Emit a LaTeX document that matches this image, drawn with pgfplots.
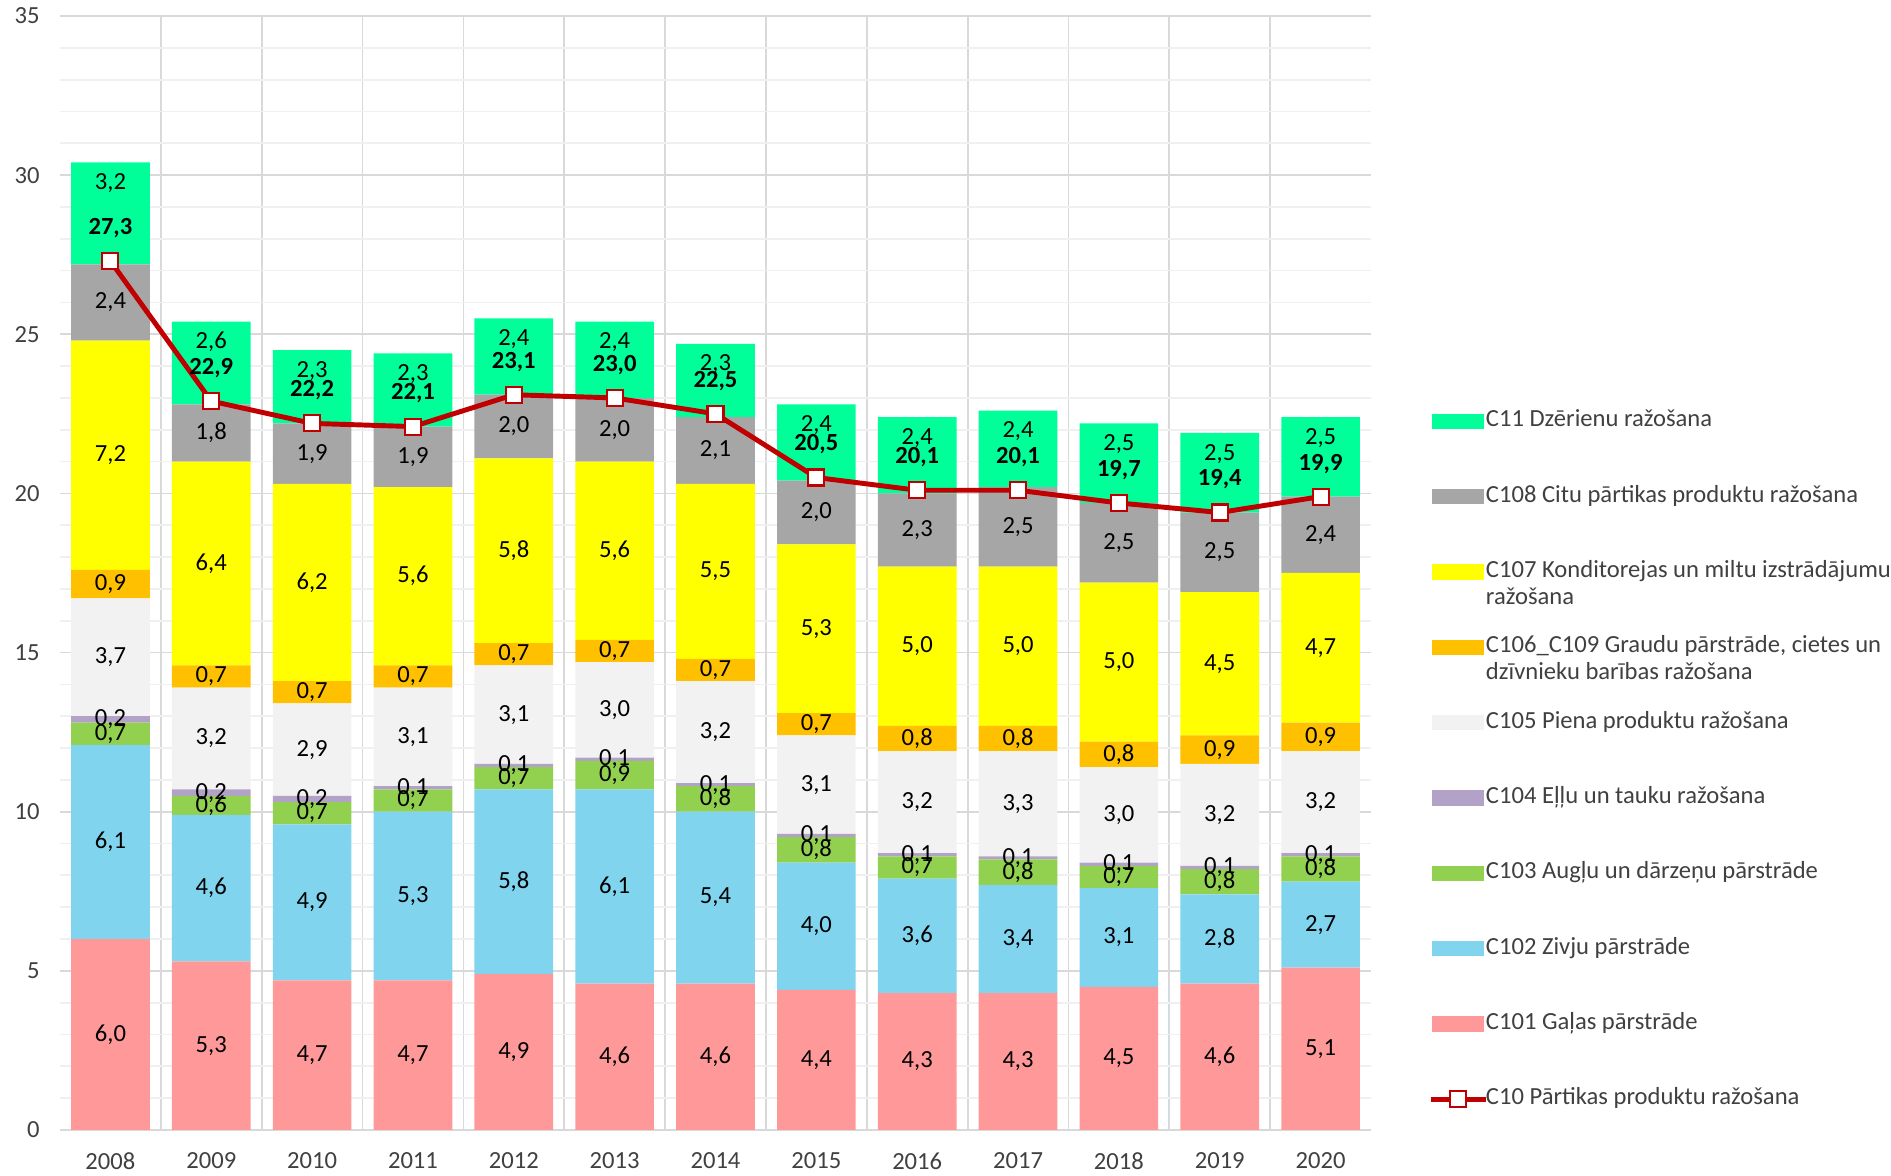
\documentclass[border=0pt]{standalone}
\usepackage{pgfplots}
\pgfplotsset{compat=1.18}
\usepackage{pgfplotstable}
\usepackage{fontspec}
\setmainfont{Carlito}
\definecolor{cMeat}{HTML}{FF9999}
\definecolor{cFish}{HTML}{80D4EE}
\definecolor{cFruit}{HTML}{92D050}
\definecolor{cOil}{HTML}{B3A2C7}
\definecolor{cMilk}{HTML}{F2F2F2}
\definecolor{cGrain}{HTML}{FFC000}
\definecolor{cBake}{HTML}{FFFF00}
\definecolor{cOther}{HTML}{A6A6A6}
\definecolor{cDrink}{HTML}{00FF99}
\definecolor{lineRed}{HTML}{C00000}
\definecolor{gridc}{HTML}{D9D9D9}
\definecolor{gridm}{HTML}{F0F0F0}
\definecolor{txtc}{HTML}{404040}
\newcommand{\LE}{\hspace*{-0.9mm}}

\pgfplotstableread{
yr c101 c102 c103 c104 c105 c106 c107 c108 c11 c10
0  6.0 6.1 0.7 0.2 3.7 0.9 7.2 2.4 3.2 27.3
1  5.3 4.6 0.6 0.2 3.2 0.7 6.4 1.8 2.6 22.9
2  4.7 4.9 0.7 0.2 2.9 0.7 6.2 1.9 2.3 22.2
3  4.7 5.3 0.7 0.1 3.1 0.7 5.6 1.9 2.3 22.1
4  4.9 5.8 0.7 0.1 3.1 0.7 5.8 2.0 2.4 23.1
5  4.6 6.1 0.9 0.1 3.0 0.7 5.6 2.0 2.4 23.0
6  4.6 5.4 0.8 0.1 3.2 0.7 5.5 2.1 2.3 22.5
7  4.4 4.0 0.8 0.1 3.1 0.7 5.3 2.0 2.4 20.5
8  4.3 3.6 0.7 0.1 3.2 0.8 5.0 2.3 2.4 20.1
9  4.3 3.4 0.8 0.1 3.3 0.8 5.0 2.5 2.4 20.1
10 4.5 3.1 0.7 0.1 3.0 0.8 5.0 2.5 2.5 19.7
11 4.6 2.8 0.8 0.1 3.2 0.9 4.5 2.5 2.5 19.4
12 5.1 2.7 0.8 0.1 3.2 0.9 4.7 2.4 2.5 19.9
}\datatable

\pgfplotsset{
  commonaxis/.style={
    at={(0,0)}, anchor=south west,
    width=131.1mm, height=111.4mm, scale only axis,
    xmin=-0.5, xmax=12.5, ymin=0, ymax=35,
  }
}

\begin{document}
\begin{tikzpicture}[font=\fontsize{7}{8}\selectfont]
\path[use as bounding box] (-6.0mm,-4.5mm) rectangle (183.1mm,113.0mm);
\begin{axis}[commonaxis,
  ybar stacked, bar width=0.78,
  xtick={0,...,12},
  xticklabels={2008,2009,2010,2011,2012,2013,2014,2015,2016,2017,2018,2019,2020},
  minor xtick={0.5,1.5,...,11.5},
  ytick={0,5,...,35},
  yticklabels={0,5,10,15,20,25,30,35},
  minor y tick num=4,
  xminorgrids, ymajorgrids, yminorgrids,
  major y grid style={draw=gridc, line width=0.5pt},
  minor y grid style={draw=gridm, line width=0.5pt},
  minor x grid style={draw=gridc, line width=0.5pt},
  separate axis lines,
  axis x line*=bottom, axis y line*=left,
  x axis line style={draw=gridc, line width=0.6pt},
  y axis line style={draw=none},
  major tick length=0pt, minor tick length=0pt,
  tick style={draw=none},
  yticklabel style={text=txtc, xshift=-0.8mm},
  xticklabel style={text=txtc, yshift=-1.0mm},
  nodes near coords={\pgfmathprintnumber[fixed,fixed zerofill,precision=1,use comma,assume math mode=true]{\pgfplotspointmeta}},
  visualization depends on=rawy \as \rawy,
  every node near coord/.append style={anchor=center, text=black},
]
\addplot[fill=cMeat, draw=none] table[x=yr,y=c101]{\datatable};
\addplot[fill=cFish, draw=none] table[x=yr,y=c102]{\datatable};
\addplot[fill=cFruit, draw=none] table[x=yr,y=c103]{\datatable};
\addplot[fill=cOil, draw=none] table[x=yr,y=c104]{\datatable};
\addplot[fill=cMilk, draw=none] table[x=yr,y=c105]{\datatable};
\addplot[fill=cGrain, draw=none] table[x=yr,y=c106]{\datatable};
\addplot[fill=cBake, draw=none] table[x=yr,y=c107]{\datatable};
\addplot[fill=cOther, draw=none] table[x=yr,y=c108]{\datatable};
\addplot[fill=cDrink, draw=none,
  every node near coord/.append style={shift={(axis direction cs:0,\rawy/2-0.65)}}]
  table[x=yr,y=c11]{\datatable};
\end{axis}

\begin{axis}[commonaxis, hide axis,
  legend style={at={(1.0435,0.652)}, anchor=north west, draw=none, fill=none,
    inner sep=0pt, outer sep=0pt, row sep=4.0mm, column sep=0pt,
    font=\fontsize{7}{7.6}\selectfont, text=txtc,
    cells={anchor=west, text height=1.6mm, text depth=0.6mm, inner ysep=0pt, inner xsep=0.15mm}},
]
\addplot[color=lineRed, line width=1.4pt, sharp plot,
  mark=square*, mark size=0.8mm, mark options={fill=white, draw=lineRed, line width=0.6pt},
  nodes near coords={\bfseries\pgfmathprintnumber[fixed,fixed zerofill,precision=1,use comma,assume math mode=true]{\pgfplotspointmeta}},
  every node near coord/.append style={anchor=center, yshift=3.3mm, text=black},
  forget plot] table[x=yr,y=c10]{\datatable};

\addlegendimage{legend image code/.code={\fill[cDrink] (0mm,-0.7mm) rectangle (5.1mm,0.7mm);}}
\addlegendentry{\LE C11 Dzērienu ražošana}
\addlegendimage{legend image code/.code={\fill[cOther] (0mm,-0.7mm) rectangle (5.1mm,0.7mm);}}
\addlegendentry{\LE C108 Citu pārtikas produktu ražošana}
\addlegendimage{legend image code/.code={\fill[cBake] (0mm,-0.7mm) rectangle (5.1mm,0.7mm);}}
\addlegendentry{\LE\smash{\parbox[t]{42mm}{\raggedright C107 Konditorejas un miltu izstrādājumu\\ražošana}}}
\addlegendimage{legend image code/.code={\fill[cGrain] (0mm,-0.7mm) rectangle (5.1mm,0.7mm);}}
\addlegendentry{\LE\smash{\parbox[t]{42mm}{\raggedright C106\_C109 Graudu pārstrāde, cietes un\\dzīvnieku barības ražošana}}}
\addlegendimage{legend image code/.code={\fill[cMilk] (0mm,-0.7mm) rectangle (5.1mm,0.7mm);}}
\addlegendentry{\LE C105 Piena produktu ražošana}
\addlegendimage{legend image code/.code={\fill[cOil] (0mm,-0.7mm) rectangle (5.1mm,0.7mm);}}
\addlegendentry{\LE C104 Eļļu un tauku ražošana}
\addlegendimage{legend image code/.code={\fill[cFruit] (0mm,-0.7mm) rectangle (5.1mm,0.7mm);}}
\addlegendentry{\LE C103 Augļu un dārzeņu pārstrāde}
\addlegendimage{legend image code/.code={\fill[cFish] (0mm,-0.7mm) rectangle (5.1mm,0.7mm);}}
\addlegendentry{\LE C102 Zivju pārstrāde}
\addlegendimage{legend image code/.code={\fill[cMeat] (0mm,-0.7mm) rectangle (5.1mm,0.7mm);}}
\addlegendentry{\LE C101 Gaļas pārstrāde}
\addlegendimage{legend image code/.code={\draw[lineRed, line width=1.4pt] (-0.2mm,0mm) -- (5.3mm,0mm); \draw[lineRed, line width=0.6pt, fill=white] (2.55mm,0mm) +(-0.8mm,-0.8mm) rectangle +(0.8mm,0.8mm);}}
\addlegendentry{\LE C10 Pārtikas produktu ražošana}
\end{axis}
\end{tikzpicture}
\end{document}
